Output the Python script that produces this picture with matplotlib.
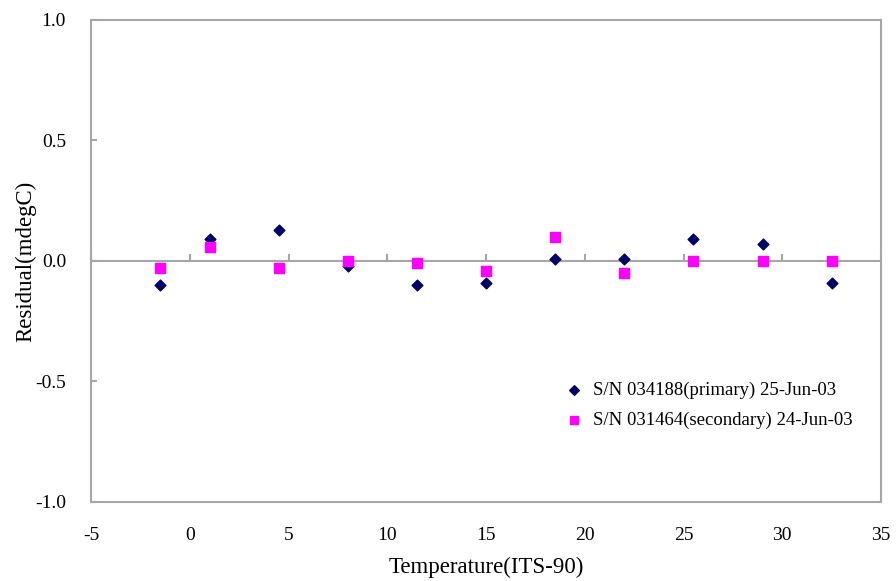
import matplotlib.pyplot as plt

# Data
temps = [-1.5, 1.0, 4.5, 8.0, 11.5, 15.0, 18.5, 22.0, 25.5, 29.0, 32.5]
primary = [-0.10, 0.09, 0.13, -0.02, -0.10, -0.09, 0.01, 0.01, 0.09, 0.07, -0.09]
secondary = [-0.03, 0.06, -0.03, 0.00, -0.01, -0.04, 0.10, -0.05, 0.00, 0.00, 0.00]
x_ticks = [-5, 0, 5, 10, 15, 20, 25, 30, 35]
y_ticks = [-1.0, -0.5, 0.0, 0.5, 1.0]

plt.rcParams['font.family'] = ['Liberation Serif', 'DejaVu Serif']
plt.rcParams['axes.unicode_minus'] = False
gray = '#a6a6a6'

fig = plt.figure(figsize=(8.96, 5.81), dpi=100)
ax = fig.add_axes([0.1016, 0.136, 0.8817, 0.8296])

ax.scatter(temps, primary, marker='D', s=30, color='#000066',
           label='S/N 034188(primary) 25-Jun-03', zorder=3)
ax.scatter(temps, secondary, marker='s', s=42, color='#ff00ff',
           label='S/N 031464(secondary) 24-Jun-03', zorder=3)

ax.set_xlim(-5, 35)
ax.set_ylim(-1, 1)
ax.set_xticks(x_ticks)
ax.set_yticks(y_ticks)
ax.set_yticklabels([f'{v:.1f}' for v in y_ticks])

for sp in ax.spines.values():
    sp.set_color(gray)
    sp.set_linewidth(1.5)

ax.tick_params(axis='x', length=0, pad=18, labelsize=14)
ax.tick_params(axis='y', direction='in', length=4, color=gray, width=1.5,
               pad=18, labelsize=14)

# zero line with tick marks (Excel style axis crossing)
ax.axhline(0, color=gray, linewidth=1.5, zorder=1)
sec = ax.secondary_xaxis(0.5)
sec.spines['bottom'].set_visible(False)
sec.spines['top'].set_visible(False)
sec.set_xticks(x_ticks)
sec.tick_params(axis='x', direction='out', length=5, color=gray, width=1.5,
                labelbottom=False, labeltop=False)

ax.set_xlabel('Temperature(ITS-90)', fontsize=16.5, labelpad=9)
ax.set_ylabel('Residual(mdegC)', fontsize=16.5, labelpad=-1)

ax.legend(loc='lower right', bbox_to_anchor=(0.973, 0.135), frameon=False,
          fontsize=13.5, handletextpad=0.0, markerscale=0.9, borderaxespad=0,
          labelspacing=0.7)

fig.savefig('out.png', dpi=100)
